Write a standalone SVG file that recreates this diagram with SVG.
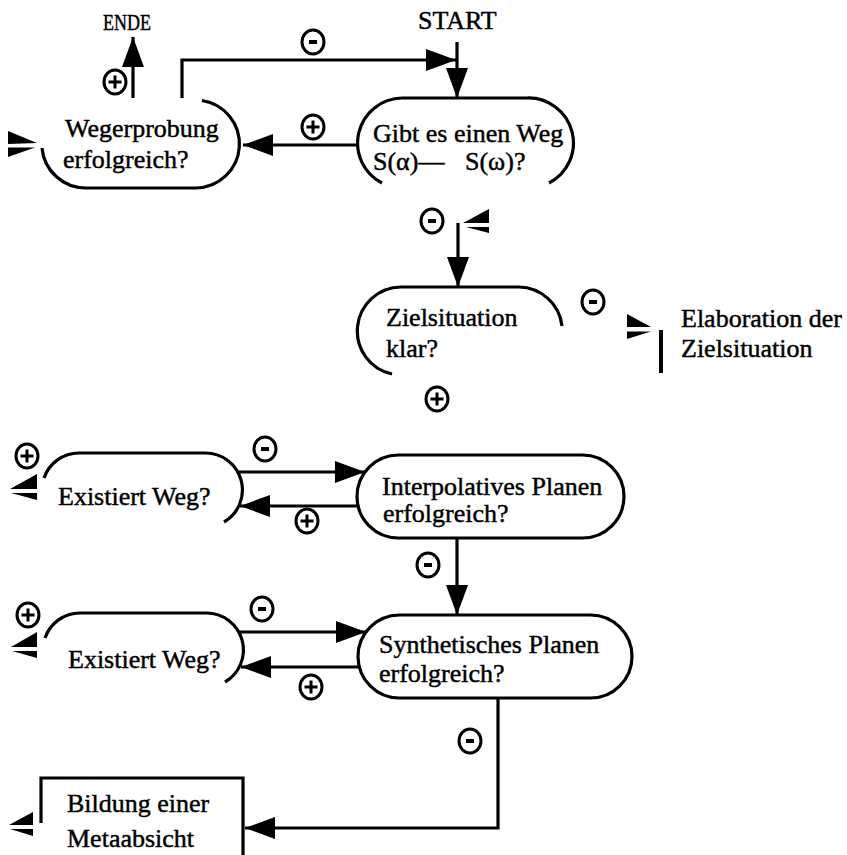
<svg xmlns="http://www.w3.org/2000/svg" xmlns:xlink="http://www.w3.org/1999/xlink" width="847" height="855" viewBox="0 0 847 855">
<style>
.t{font-family:"Liberation Serif","Times New Roman",serif;font-size:26px;fill:#000;stroke:#000;stroke-width:0.45}
.o{fill:none;stroke:#000;stroke-width:3.2}
.c{fill:none;stroke:#000;stroke-width:3.2;marker-end:url(#ah)}
.w{fill:#000;stroke:none}
</style>
<defs>
<marker id="ah" markerUnits="userSpaceOnUse" viewBox="0 0 30 22" refX="30" refY="11" markerWidth="30" markerHeight="22" orient="auto">
<path d="M0,0 L30,11 L0,22 z" fill="#000"/>
</marker>
<g id="plus"><ellipse rx="11" ry="12" fill="#fff" stroke="#000" stroke-width="3"/><path d="M-6.5,0 H6.5 M0,-6.5 V6.5" stroke="#000" stroke-width="3"/></g>
<g id="minus"><ellipse rx="11" ry="12" fill="#fff" stroke="#000" stroke-width="3"/><path d="M-4,0 H4" stroke="#000" stroke-width="4"/></g>
</defs>
<rect width="847" height="855" fill="#fff"/>

<g id="connectors">
<path class="c" d="M133,98 V37"/>
<path class="c" d="M182,98 V60 H456"/>
<path class="c" d="M457,42 V98"/>
<path class="c" d="M357,145 H243"/>
<path class="c" d="M458,223 V287"/>
<path class="c" d="M457,538 V615"/>
<path class="c" d="M237,472 H365"/>
<path class="c" d="M358,506 H240"/>
<path class="c" d="M238,632 H366"/>
<path class="c" d="M359,667 H241"/>
<path class="c" d="M498,698 V828 H245"/>
<use xlink:href="#plus" href="#plus" x="115" y="82"/>
<use xlink:href="#minus" href="#minus" x="313" y="42"/>
<use xlink:href="#plus" href="#plus" x="313" y="127"/>
<use xlink:href="#minus" href="#minus" x="432" y="221"/>
<use xlink:href="#minus" href="#minus" x="593" y="302"/>
<use xlink:href="#plus" href="#plus" x="437" y="399"/>
<use xlink:href="#plus" href="#plus" x="27" y="456"/>
<use xlink:href="#minus" href="#minus" x="265" y="449"/>
<use xlink:href="#plus" href="#plus" x="307" y="521"/>
<use xlink:href="#minus" href="#minus" x="428" y="565"/>
<use xlink:href="#plus" href="#plus" x="28" y="615"/>
<use xlink:href="#minus" href="#minus" x="262" y="609"/>
<use xlink:href="#plus" href="#plus" x="311" y="687"/>
<use xlink:href="#minus" href="#minus" x="470" y="741"/>
</g>

<g id="ende"><text class="t" x="103" y="30" style="font-size:23px" textLength="48" lengthAdjust="spacingAndGlyphs">ENDE</text></g>
<g id="start"><text class="t" x="418" y="29">START</text></g>

<g id="wegerprobung">
<path class="o" d="M202,100.5 A44,44 0 0 1 196,188 H86 A44,44 0 0 1 42,148"/>
<polygon class="w" points="8,131 37,143 8,144"/>
<polygon class="w" points="8,147.5 35,147.5 8,157"/>
<text class="t" x="65" y="137">Wegerprobung</text>
<text class="t" x="63" y="168">erfolgreich?</text>
</g>

<g id="gibt">
<path class="o" d="M382,183 A45,45 0 0 1 402,98 H527 A45,45 0 0 1 549,183"/>
<text class="t" x="373" y="142">Gibt es einen Weg</text>
<text class="t" x="373" y="170">S(α)—</text>
<text class="t" x="465" y="170">S(ω)?</text>
</g>

<g id="zielsituation">
<path class="o" d="M392,374 A44,44 0 0 1 401,287 H519 A44,44 0 0 1 562,326"/>
<polygon class="w" points="489,209 463,223 489,223"/>
<polygon class="w" points="489,227 466,227 489,233"/>
<text class="t" x="386" y="326">Zielsituation</text>
<text class="t" x="386" y="357">klar?</text>
</g>

<g id="elaboration">
<polygon class="w" points="627,314 651,327 627,327"/>
<polygon class="w" points="627,331.5 651,331.5 627,339"/>
<path d="M661,330 V373" stroke="#000" stroke-width="4"/>
<text class="t" x="681" y="327">Elaboration der</text>
<text class="t" x="681" y="357">Zielsituation</text>
</g>

<g id="existiert1">
<path class="o" d="M44,478 A37,37 0 0 1 79,453 H205 A37,37 0 0 1 224,522"/>
<polygon class="w" points="37,474 10,489 37,489"/>
<polygon class="w" points="37,493 11,493 37,500"/>
<text class="t" x="58" y="505">Existiert Weg?</text>
</g>

<g id="interpolativ">
<rect class="o" x="357" y="455" width="267" height="83" rx="41.5"/>
<text class="t" x="382" y="495">Interpolatives Planen</text>
<text class="t" x="383" y="522">erfolgreich?</text>
</g>

<g id="existiert2">
<path class="o" d="M45,638 A37,37 0 0 1 80,613 H206 A37,37 0 0 1 225,682"/>
<polygon class="w" points="37,632 11,647 37,647"/>
<polygon class="w" points="37,651 12,651 37,658"/>
<text class="t" x="68" y="668">Existiert Weg?</text>
</g>

<g id="synthetisch">
<rect class="o" x="358" y="615" width="274" height="83" rx="41.5"/>
<text class="t" x="379" y="653">Synthetisches Planen</text>
<text class="t" x="379" y="682">erfolgreich?</text>
</g>

<g id="bildung">
<path class="o" d="M41,823 V778 H243 V855"/>
<polygon class="w" points="33,812 9,825 33,825"/>
<polygon class="w" points="33,829 10,829 33,836"/>
<text class="t" x="67" y="812">Bildung einer</text>
<text class="t" x="67" y="847">Metaabsicht</text>
</g>
</svg>
